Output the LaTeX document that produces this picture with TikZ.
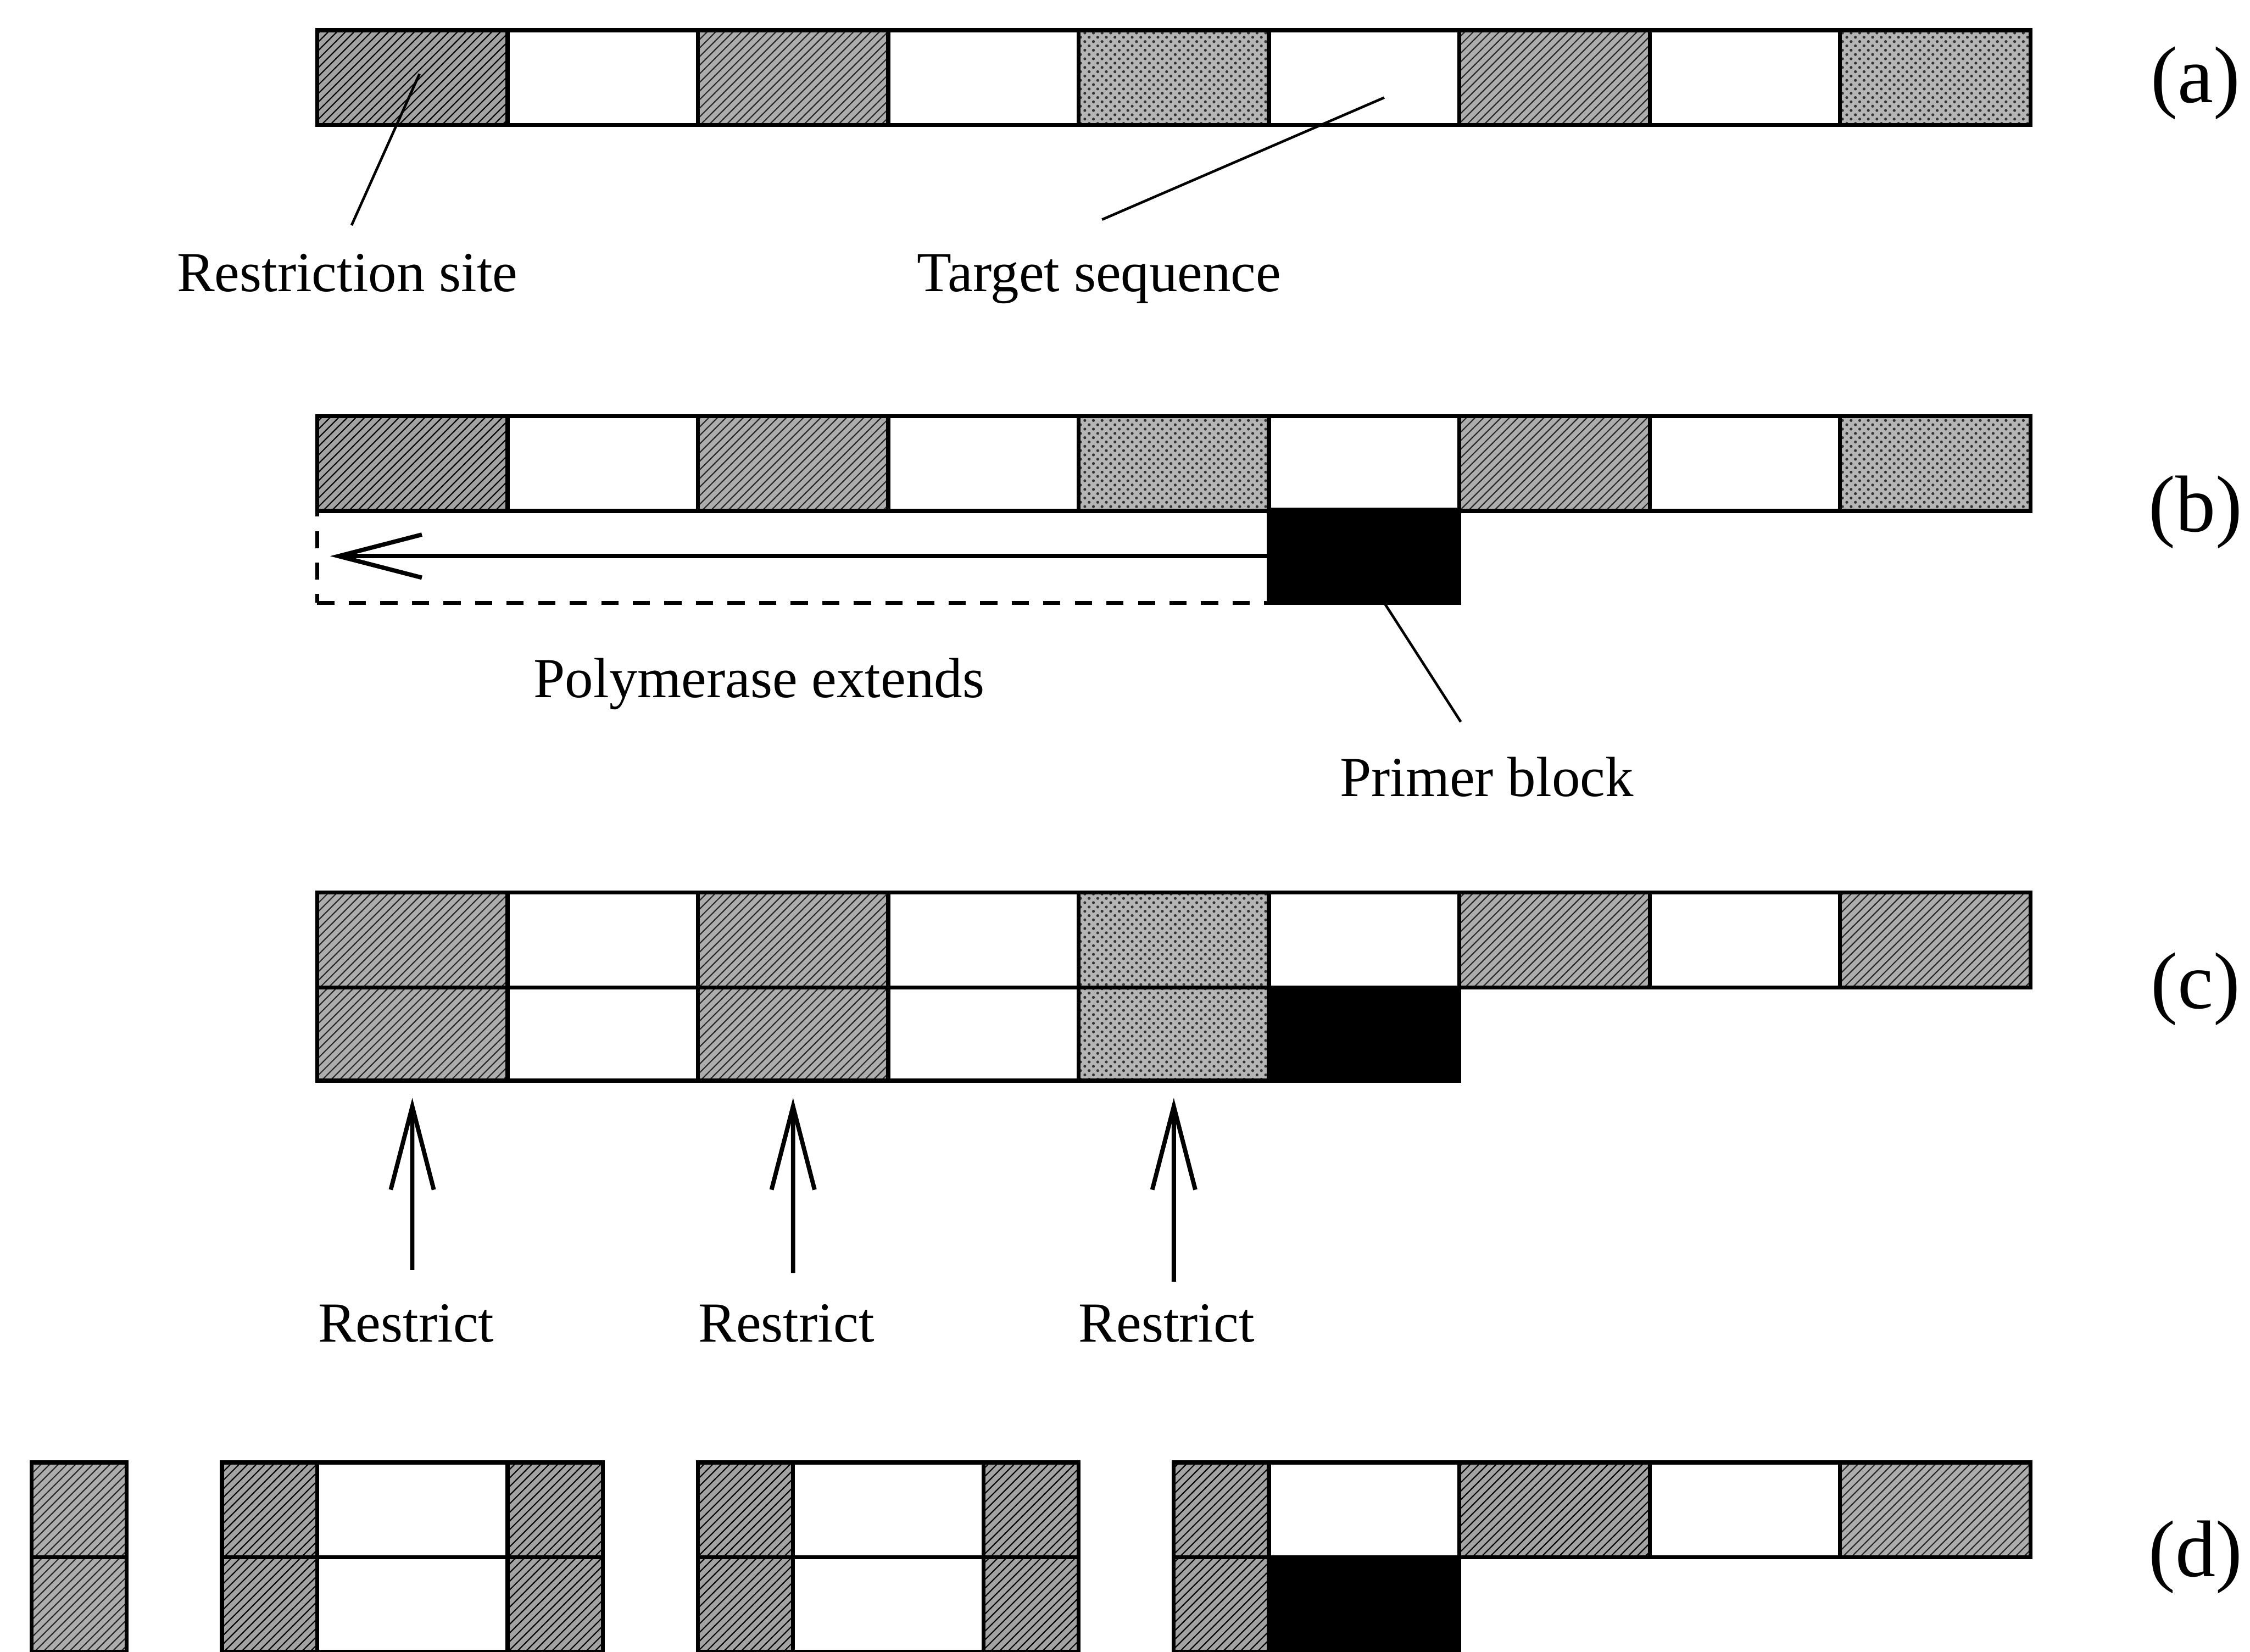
\documentclass[tikz,border=0pt]{standalone}
\usepackage{fontspec}
\setmainfont{Liberation Serif}
\usetikzlibrary{arrows.meta,patterns}
\begin{document}
\begin{tikzpicture}[x=0.5pt,y=-0.5pt,
  cell/.style={draw, line width=1.4pt, inner sep=0pt, outer sep=0pt, minimum height=33pt, anchor=north west},
  full/.style={minimum width=66.33pt},
  half/.style={minimum width=33.17pt},
  shD/.style={preaction={fill=gray!72}, preaction={pattern=north east lines, pattern color=black}},
  shM/.style={preaction={fill=gray!64}, preaction={pattern=north east lines, pattern color=black!85}},
  shL/.style={preaction={fill=gray!58}, preaction={pattern=crosshatch dots, pattern color=black!80}},
  wht/.style={fill=white},
  blk/.style={fill=black},
  lbl/.style={font=\fontsize{19.7}{23}\selectfont, inner sep=0pt},
  tag/.style={font=\fontsize{28}{32}\selectfont, inner sep=0pt},
  lead/.style={line width=0.9pt},
  arr/.style={line width=1.5pt, -{Straight Barb[length=29pt,width=15pt,line width=1.5pt]}}
]
\useasboundingbox (0,0) rectangle (1568,1151);
\def\W{132.667}
\def\H{66.333}

% ---------- (a) ----------
\foreach \i/\s in {0/shD,1/wht,2/shM,3/wht,4/shL,5/wht,6/shM,7/wht,8/shL}
  \node[cell,full,\s] (a\i) at ({221+\i*\W},21) {};
\node[lbl,anchor=base] (lRS) at (242,203) {Restriction site};
\node[lbl,anchor=base] (lTS) at (766,203) {Target sequence};
\coordinate (eRS) at (245,157);
\coordinate (eTS) at (768,153);
\draw[lead] ([shift={(5,-2.5)}]a0.center) -- (eRS);
\draw[lead] ([shift={(14,14)}]a5.center) -- (eTS);
\node[tag] (ta) at (1530,58) {(a)};

% ---------- (b) ----------
\node[draw, dash pattern=on 6pt off 5pt, line width=1.3pt, inner sep=0pt, outer sep=0pt,
      minimum width=332pt, minimum height=32.5pt, anchor=north west] (bExt) at (221,355) {};
\foreach \i/\s in {0/shD,1/wht,2/shM,3/wht,4/shL,5/wht,6/shM,7/wht,8/shL}
  \node[cell,full,\s] (b\i) at ({221+\i*\W},290) {};
\node[cell,full,blk,minimum height=32.5pt] (bP) at (884.3,355) {};
\draw[arr] (bP.west) -- ([xshift=4.5pt]bExt.west);
\node[lbl,anchor=base] (lPE) at (529,486) {Polymerase extends};
\node[lbl,anchor=base] (lPB) at (1036,555) {Primer block};
\coordinate (ePB) at (1018,503);
\draw[lead] ([xshift=7pt]bP.south) -- (ePB);
\node[tag] (tb) at (1530,357) {(b)};

% ---------- (c) ----------
\foreach \i/\s in {0/shM,1/wht,2/shM,3/wht,4/shL,5/wht,6/shM,7/wht,8/shM}
  \node[cell,full,\s] (c\i) at ({221+\i*\W},622) {};
\foreach \i/\s in {0/shM,1/wht,2/shM,3/wht,4/shL,5/blk}
  \node[cell,full,\s,minimum height=32.5pt] (cb\i) at ({221+\i*\W},688) {};
\node[lbl,anchor=base] (r1) at (283,935) {Restrict};
\node[lbl,anchor=base] (r2) at (548,935) {Restrict};
\node[lbl,anchor=base] (r3) at (813,935) {Restrict};
\coordinate (t1) at (287.3,885);
\coordinate (t2) at (552.7,887);
\coordinate (t3) at (818,893);
\draw[arr] (t1) -- ([yshift=-6pt]cb0.south);
\draw[arr] (t2) -- ([yshift=-6pt]cb2.south);
\draw[arr] (t3) -- ([yshift=-6pt]cb4.south);
\node[tag] (tc) at (1530,689) {(c)};

% ---------- (d) ----------
% piece 1
\node[cell,half,shM] (d1t) at ({221-3*\H},1019) {};
\node[cell,half,shM] (d1b) at ({221-3*\H},1085) {};
% piece 2
\foreach \r/\y in {t/1019,b/1085}{
  \node[cell,half,shD] (d2\r a) at ({221-1*\H},\y) {};
  \node[cell,full,wht] (d2\r b) at ({221+0*\H},\y) {};
  \node[cell,half,shD] (d2\r c) at ({221+2*\H},\y) {};
}
% piece 3
\foreach \r/\y in {t/1019,b/1085}{
  \node[cell,half,shD] (d3\r a) at ({221+4*\H},\y) {};
  \node[cell,full,wht] (d3\r b) at ({221+5*\H},\y) {};
  \node[cell,half,shD] (d3\r c) at ({221+7*\H},\y) {};
}
% piece 4
\node[cell,half,shD] (d4ta) at ({221+9*\H},1019) {};
\node[cell,full,wht] (d4tb) at ({221+10*\H},1019) {};
\node[cell,full,shD] (d4tc) at ({221+12*\H},1019) {};
\node[cell,full,wht] (d4td) at ({221+14*\H},1019) {};
\node[cell,full,shM] (d4te) at ({221+16*\H},1019) {};
\node[cell,half,shD] (d4ba) at ({221+9*\H},1085) {};
\node[cell,full,blk] (d4bb) at ({221+10*\H},1085) {};
\node[tag] (td) at (1530,1085) {(d)};
\end{tikzpicture}
\end{document}
